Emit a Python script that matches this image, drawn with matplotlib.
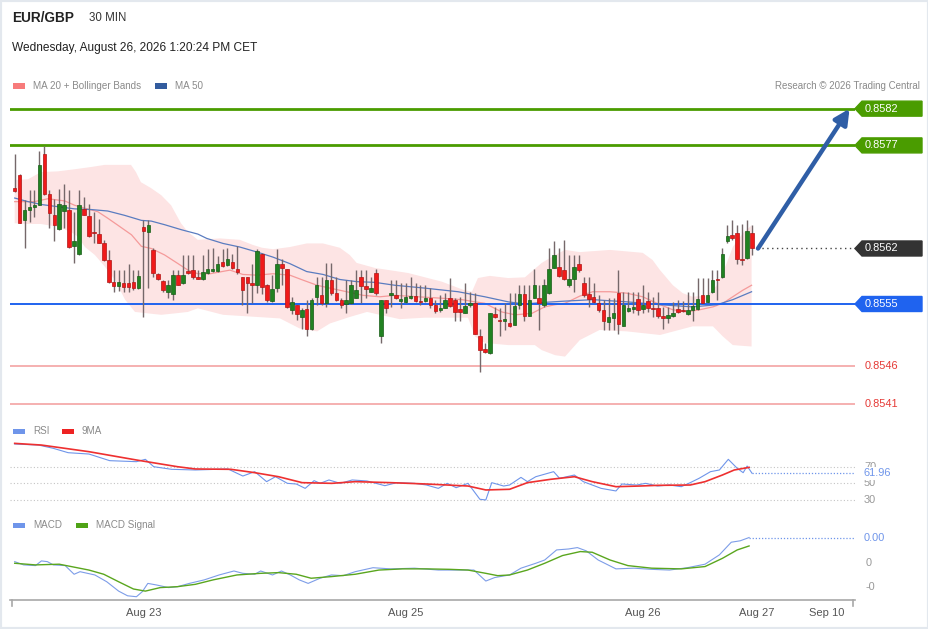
import matplotlib
matplotlib.use("Agg")
import matplotlib.pyplot as plt
import matplotlib.transforms as mtransforms
from matplotlib.patches import Polygon, Rectangle
import numpy as np

plt.rcParams["font.family"] = ["Liberation Sans", "DejaVu Sans"]

W, H = 929, 629

# EUR/GBP 30 min candles, prices in points (1e-5)
open_pts = [85708, 85726, 85664, 85677, 85681, 85685, 85755, 85699, 85671, 85651,
            85676, 85678, 85627, 85616, 85679, 85669, 85647, 85644, 85632, 85608,
            85577, 85572, 85576, 85576, 85577, 85569, 85654, 85647, 85622, 85589,
            85579, 85564, 85561, 85587, 85576, 85593, 85594, 85584, 85581, 85590,
            85593, 85593, 85605, 85601, 85605, 85596, 85584, 85584, 85576, 85574,
            85617, 85574, 85551, 85569, 85602, 85595, 85539, 85545, 85529, 85540,
            85512, 85557, 85559, 85548, 85580, 85562, 85552, 85547, 85548, 85556,
            85585, 85572, 85564, 85590, 85503, 85553, 85559, 85560, 85551, 85550,
            85555, 85558, 85551, 85551, 85555, 85545, 85538, 85542, 85556, 85553,
            85540, 85535, 85545, 85549, 85502, 85484, 85479, 85533, 85525, 85524,
            85521, 85518, 85545, 85561, 85530, 85556, 85555, 85545, 85562, 85597,
            85598, 85594, 85573, 85582, 85602, 85576, 85561, 85557, 85549, 85539,
            85522, 85527, 85562, 85517, 85537, 85540, 85554, 85540, 85551, 85542,
            85541, 85531, 85528, 85531, 85540, 85539, 85533, 85539, 85540, 85559,
            85550, 85563, 85581, 85584, 85634, 85643, 85645, 85610, 85611, 85646]
high_pts = [85755, 85727, 85691, 85705, 85705, 85759, 85766, 85705, 85693, 85707,
            85714, 85705, 85675, 85705, 85696, 85686, 85675, 85665, 85636, 85622,
            85594, 85594, 85594, 85603, 85594, 85594, 85663, 85663, 85624, 85590,
            85580, 85580, 85594, 85594, 85615, 85615, 85615, 85594, 85615, 85623,
            85624, 85613, 85623, 85624, 85617, 85627, 85585, 85585, 85603, 85623,
            85618, 85575, 85587, 85623, 85610, 85595, 85557, 85545, 85541, 85552,
            85555, 85585, 85585, 85604, 85604, 85585, 85555, 85580, 85580, 85594,
            85594, 85594, 85585, 85595, 85553, 85553, 85580, 85580, 85576, 85576,
            85585, 85576, 85573, 85573, 85569, 85552, 85559, 85562, 85583, 85555,
            85557, 85576, 85564, 85562, 85512, 85493, 85535, 85543, 85542, 85548,
            85562, 85562, 85573, 85573, 85573, 85595, 85573, 85582, 85624, 85635,
            85624, 85636, 85615, 85615, 85615, 85585, 85585, 85576, 85559, 85552,
            85555, 85555, 85594, 85563, 85563, 85563, 85564, 85573, 85564, 85557,
            85564, 85543, 85543, 85550, 85553, 85551, 85564, 85564, 85583, 85583,
            85583, 85594, 85594, 85624, 85656, 85664, 85656, 85658, 85664, 85656]
low_pts = [85703, 85659, 85624, 85661, 85668, 85684, 85698, 85653, 85634, 85650,
           85653, 85625, 85604, 85615, 85670, 85640, 85631, 85631, 85607, 85576,
           85564, 85565, 85564, 85564, 85566, 85568, 85529, 85569, 85585, 85580,
           85564, 85555, 85553, 85573, 85575, 85589, 85582, 85581, 85580, 85589,
           85591, 85591, 85598, 85600, 85596, 85589, 85545, 85534, 85548, 85562,
           85561, 85550, 85550, 85564, 85573, 85542, 85533, 85525, 85513, 85502,
           85511, 85545, 85545, 85543, 85559, 85551, 85542, 85534, 85547, 85556,
           85548, 85556, 85564, 85559, 85493, 85535, 85543, 85554, 85541, 85549,
           85554, 85550, 85545, 85550, 85541, 85534, 85536, 85541, 85543, 85524,
           85524, 85535, 85543, 85505, 85453, 85479, 85478, 85527, 85502, 85511,
           85515, 85518, 85540, 85524, 85530, 85556, 85511, 85543, 85561, 85597,
           85585, 85580, 85571, 85564, 85591, 85557, 85543, 85548, 85536, 85511,
           85511, 85511, 85506, 85516, 85536, 85534, 85532, 85534, 85536, 85529,
           85527, 85513, 85520, 85529, 85534, 85536, 85532, 85524, 85539, 85548,
           85549, 85562, 85553, 85583, 85632, 85636, 85603, 85601, 85610, 85615]
close_pts = [85704, 85660, 85678, 85682, 85685, 85740, 85699, 85673, 85656, 85686,
             85684, 85626, 85634, 85685, 85671, 85642, 85646, 85632, 85608, 85578,
             85572, 85578, 85571, 85571, 85569, 85586, 85648, 85656, 85590, 85581,
             85566, 85574, 85587, 85574, 85587, 85590, 85585, 85582, 85591, 85595,
             85595, 85602, 85600, 85609, 85597, 85591, 85566, 85576, 85574, 85621,
             85571, 85552, 85568, 85603, 85597, 85543, 85550, 85533, 85538, 85513,
             85553, 85574, 85548, 85580, 85562, 85552, 85545, 85553, 85573, 85566,
             85572, 85568, 85569, 85562, 85552, 85542, 85562, 85555, 85554, 85557,
             85558, 85551, 85550, 85555, 85545, 85537, 85542, 85552, 85544, 85536,
             85536, 85544, 85548, 85505, 85483, 85480, 85534, 85529, 85523, 85526,
             85516, 85544, 85561, 85530, 85553, 85574, 85549, 85574, 85595, 85615,
             85586, 85582, 85582, 85598, 85594, 85559, 85554, 85550, 85539, 85523,
             85529, 85535, 85519, 85546, 85541, 85543, 85539, 85546, 85541, 85540,
             85530, 85528, 85532, 85535, 85536, 85537, 85539, 85544, 85554, 85549,
             85559, 85580, 85580, 85616, 85641, 85638, 85609, 85608, 85648, 85624]

# Bollinger bands (MA 20) and MA 50, read at sample candles (index, points)
bb_up_idx = [0, 2.7, 5.3, 8.7, 12.2, 15.4, 18.2, 23.5, 24.5, 25.5, 27.5, 29.6, 31.6, 32.4,
             33.6, 35, 37, 41.5, 45.5, 48.1, 50, 52.2, 55.6, 59, 62.3, 65.7, 67.7, 69.1,
             72.8, 79.5, 86.3, 90.9, 92.4, 93.6, 96, 99.7, 103.1, 106.5, 109.2, 111.2,
             114.2, 120.3, 126.9, 128.9, 130.4, 133, 135, 137, 139.9, 141.9, 143.9,
             145.1, 147.1, 148.9]
bb_up = [85719, 85720, 85730, 85731, 85734, 85737, 85740, 85740, 85730, 85716, 85708,
         85698, 85684, 85674, 85659, 85647, 85636, 85638, 85636, 85629, 85625, 85623,
         85626, 85631, 85631, 85625, 85615, 85604, 85597, 85590, 85578, 85566, 85564,
         85583, 85586, 85583, 85584, 85604, 85615, 85622, 85619, 85622, 85618, 85608,
         85594, 85573, 85562, 85557, 85559, 85573, 85604, 85626, 85645, 85656]
bb_lo_idx = [0, 2.7, 5.3, 8.7, 11.4, 12.8, 14.2, 16.2, 18.2, 20.3, 22.3, 24.3, 26.9, 29.6,
             32.4, 35, 37, 42.1, 49, 53.6, 57.6, 61.1, 63.7, 67.7, 71.2, 73.8, 77.8, 82.9,
             91.6, 93, 95, 99.7, 105.1, 106.5, 109.2, 111.2, 114.2, 118.2, 123.7, 130.4,
             137, 141.1, 143.1, 145.1, 148.9]
bb_lo = [85659, 85658, 85658, 85654, 85647, 85640, 85626, 85615, 85599, 85580, 85553,
         85536, 85534, 85532, 85534, 85536, 85541, 85532, 85529, 85527, 85513, 85509,
         85520, 85529, 85536, 85532, 85526, 85528, 85528, 85502, 85493, 85490, 85490,
         85483, 85476, 85474, 85497, 85511, 85509, 85504, 85516, 85516, 85502, 85490,
         85488]
ma20_idx = [0, 4, 6.7, 10.1, 12.1, 14.1, 16.8, 18.8, 20.9, 23.6, 25.6, 27.6, 30.3, 33, 35,
            37, 39.5, 43.5, 46.1, 49, 52.2, 55.6, 58.3, 61.1, 63.7, 67.1, 70.4, 73.8, 76.8,
            81.5, 86.3, 90.4, 93, 95, 98.4, 101.1, 104.5, 107.1, 109.2, 111.2, 114.2,
            116.8, 120.3, 123.7, 126.9, 130.4, 133, 135.8, 138.4, 141.1, 143.1, 145.1,
            147.1, 148.9]
ma20 = [85689, 85689, 85693, 85690, 85684, 85680, 85675, 85666, 85656, 85643, 85627,
        85624, 85615, 85603, 85594, 85589, 85589, 85594, 85588, 85587, 85589, 85587,
        85580, 85573, 85569, 85564, 85559, 85557, 85559, 85557, 85555, 85553, 85550,
        85548, 85536, 85532, 85534, 85543, 85546, 85548, 85558, 85564, 85564, 85562,
        85557, 85546, 85539, 85536, 85539, 85543, 85548, 85557, 85566, 85573]
ma50_idx = [0, 2.7, 5.4, 8.7, 12.1, 15.5, 18.8, 22.2, 25.6, 27.6, 30.3, 33.7, 37, 38.8,
            42.1, 45.5, 49, 52.2, 55.6, 59, 62.3, 65.7, 69.1, 72.8, 76.8, 82.9, 89.6, 95,
            99.7, 103.1, 106.5, 111.2, 116.8, 123.7, 130.4, 137, 141.9, 145.1, 148.9]
ma50 = [85694, 85689, 85685, 85682, 85679, 85678, 85676, 85670, 85663, 85662, 85657,
        85650, 85644, 85638, 85631, 85626, 85619, 85612, 85603, 85592, 85588, 85581,
        85578, 85577, 85573, 85569, 85564, 85557, 85550, 85547, 85549, 85551, 85553,
        85550, 85546, 85543, 85546, 85553, 85564]

# key levels
levels = [0.85818, 0.85767, 0.85547, 0.85461, 0.85408]
level_labels = ["0.8582", "0.8577", "0.8555", "0.8546", "0.8541"]
level_kinds = ["res", "res", "pivot", "sup", "sup"]
last_label = "0.8562"

# RSI and its 9MA (index, value)
rsi_idx = [0, 4.8, 7.8, 10.8, 15, 19.2, 24.6, 26.4, 28.1, 31.7, 36.5, 43.1, 46.1, 48.5,
           50.9, 52.7, 55.1, 56.9, 58.7, 60.5, 61.7, 63.5, 65.8, 68.2, 71.2, 74.8, 77.2,
           80.8, 83.2, 85.6, 87.4, 89.2, 91.6, 94, 95.2, 96.4, 98.8, 100, 102.3, 103.6,
           105.3, 108.9, 110.1, 113.1, 114.9, 118.5, 121.5, 122.7, 125.7, 127.5, 129.9,
           132.3, 134.7, 136.5, 138.3, 140.6, 142.4, 144.2, 146, 147.2, 148, 149]
rsi = [96.8, 95.6, 91.7, 86.5, 84.9, 77.0, 75.8, 78.6, 69.8, 66.7, 65.9, 67.1, 58.7, 63.9,
       52.0, 57.9, 50.0, 49.2, 44.0, 53.2, 50.0, 54.0, 50.0, 54.0, 52.8, 47.2, 50.8, 50.0,
       48.0, 44.0, 50.0, 44.8, 50.0, 31.0, 30.2, 50.8, 46.8, 48.0, 57.1, 52.0, 57.9, 63.9,
       56.0, 59.9, 52.0, 44.0, 40.9, 49.2, 48.0, 50.0, 46.8, 48.0, 46.0, 50.8, 56.0, 63.9,
       65.9, 78.6, 67.9, 62.7, 70.6, 61.96]
rsi_ma_idx = [0, 5.4, 15, 24.6, 32.9, 36.5, 43.7, 48.5, 53.3, 58.1, 64.1, 68.8, 76, 83.2,
              91.6, 95.2, 100, 103.6, 108.3, 113.1, 116.7, 121.5, 126.3, 129.9, 136.5,
              139.5, 143, 145.4, 148.4]
rsi_ma = [97.6, 95.6, 87.7, 77.8, 69.8, 67.1, 66.7, 62.7, 57.9, 50.8, 50.0, 52.0, 50.8,
          49.2, 46.8, 42.1, 42.9, 50.8, 54.8, 57.9, 52.0, 46.0, 46.8, 47.6, 48.0, 52.0,
          59.9, 65.9, 69.0]
rsi_levels = [70, 50, 30]

# MACD and signal (index, points)
macd_idx = [0, 1.8, 4.2, 5.4, 6.6, 7.8, 10.2, 12, 13.2, 16.2, 18.6, 21, 22.8, 24.6, 25.8,
            26.9, 28.7, 31.1, 32.9, 35.3, 38.3, 41.3, 44.3, 46.1, 48.5, 49.7, 52.1, 53.9,
            55.7, 57.5, 59.3, 61.7, 64, 66.4, 68.8, 72.4, 76, 80.8, 85.6, 90.4, 92.8, 95.2,
            97, 100, 102.3, 105.3, 107.1, 109.5, 111.9, 113.7, 115.5, 117.9, 121.5, 125.1,
            128.7, 132.3, 135.9, 139.5, 142.4, 144.8, 146.6, 148.4]
macd = [0.7, -0.7, -1.0, 1.0, 0.7, -0.7, -1.0, -4.7, -3.6, -5.0, -7.9, -11.9, -13.9, -14.3,
        -12.1, -8.6, -9.3, -10.4, -10.0, -8.6, -7.1, -5.0, -3.3, -4.3, -4.7, -3.3, -5.0,
        -3.3, -5.0, -7.1, -8.6, -6.4, -5.0, -5.3, -3.6, -1.9, -2.4, -2.1, -2.9, -2.9, -2.9,
        -7.6, -6.1, -5.0, -2.1, 0.0, 1.4, 5.7, 6.1, 6.7, 5.3, 1.4, -2.4, -2.1, -2.6, -2.9,
        -1.9, -0.4, 3.6, 9.0, 9.6, 11.0]
sig_idx = [0, 4.2, 9, 11.4, 15, 18, 21, 24, 26.4, 29.4, 32.9, 36.5, 40.1, 44.9, 49.7, 53.3,
           56.9, 59.9, 64, 68.8, 73.6, 78.4, 83.2, 88, 91.6, 95.2, 97.6, 100, 103.6, 107.1,
           110.7, 114.3, 116.7, 120.3, 123.9, 128.7, 134.7, 139.5, 143, 146, 148.4]
sig = [0.0, -0.7, -0.4, -1.4, -2.9, -4.7, -7.9, -11.0, -11.9, -10.4, -10.0, -9.0, -7.1,
       -5.0, -4.3, -4.0, -4.7, -6.4, -5.7, -4.7, -2.9, -2.4, -2.4, -2.6, -2.9, -4.3, -5.3,
       -5.0, -2.9, 0.0, 3.3, 5.0, 4.7, 1.4, -1.0, -2.1, -2.4, -1.4, 2.1, 5.7, 7.4]
macd_ticks = [0.0, -10.0]
macd_tick_labels = ["0", "-0"]
macd_last_label = "0.00"

# time axis
tick_idx = [26, 79, 127, 150, 164]
tick_labels = ["Aug 23", "Aug 25", "Aug 26", "Aug 27", "Sep 10"]

GREEN_LVL = "#4a9c00"
BLUE_LVL = "#1f63ef"
RED_LVL = "#f4a3a3"
RED_TXT = "#e53935"
RSI_C = "#6f95ea"
GREY_T = "#8a8a8a"


def rect(x0, y0, x1, y1):
    return [x0 / W, 1 - y1 / H, (x1 - x0) / W, (y1 - y0) / H]


def clean(a):
    for s in a.spines.values():
        s.set_visible(False)
    a.set_xticks([])
    a.set_yticks([])
    a.set_xlim(-0.95, 169.8)
    a.patch.set_alpha(0)


fig = plt.figure(figsize=(W / 100, H / 100), dpi=100)
fig.patches.append(Rectangle((0, 0), 1, 1, transform=fig.transFigure, fill=False,
                             ec="#e3e8ee", lw=3))

ax = fig.add_axes(rect(10, 100, 855, 415))
ax_rsi = fig.add_axes(rect(10, 438, 855, 506))
ax_macd = fig.add_axes(rect(10, 527, 855, 600))
for a in (ax, ax_rsi, ax_macd):
    clean(a)

# header
fig.text(12 / W, 1 - 18 / H, "EUR/GBP", fontsize=9.8, fontweight="bold", color="#222",
         va="center")
fig.text(89 / W, 1 - 18 / H, "30 MIN", fontsize=8.3, color="#333", va="center")
fig.text(12 / W, 1 - 48 / H, "Wednesday, August 26, 2026 1:20:24 PM CET", fontsize=8.6,
         color="#222", va="center")
fig.text(920 / W, 1 - 86 / H, "Research \u00a9 2026 Trading Central", fontsize=7,
         color=GREY_T, va="center", ha="right")


def legend_item(x, y, color, text):
    fig.patches.append(Rectangle((x / W, 1 - (y + 2.5) / H), 12 / W, 5 / H,
                                 transform=fig.transFigure, fc=color, ec="none"))
    fig.text((x + 20) / W, 1 - y / H, text, fontsize=7.1, color=GREY_T, va="center")


legend_item(13, 86, "#f77b7b", "MA 20 + Bollinger Bands")
legend_item(155, 86, "#335c9e", "MA 50")
legend_item(13, 431, RSI_C, "RSI")
legend_item(62, 431, "#ee2222", "9MA")
legend_item(13, 525, RSI_C, "MACD")
legend_item(76, 525, "#4fa316", "MACD Signal")

# main price panel
ax.set_ylim(0.85393, 0.85830)
o = np.array(open_pts) / 1e5
h = np.array(high_pts) / 1e5
l = np.array(low_pts) / 1e5
c = np.array(close_pts) / 1e5
idx = np.arange(len(c))
n = len(c)

ax.fill(np.r_[bb_up_idx, bb_lo_idx[::-1]], np.r_[bb_up, bb_lo[::-1]] / 1e5,
        color="#fde4e4", lw=0, zorder=1)
ax.plot(ma20_idx, np.array(ma20) / 1e5, color="#f59a9a", lw=0.9, zorder=2)
ax.plot(ma50_idx, np.array(ma50) / 1e5, color="#5a7cc0", lw=0.9, zorder=2)

for lv, kind in zip(levels, level_kinds):
    col = {"res": GREEN_LVL, "pivot": BLUE_LVL, "sup": RED_LVL}[kind]
    lw = {"res": 2.0, "pivot": 1.4, "sup": 1.2}[kind]
    ax.axhline(lv, color=col, lw=lw, zorder=3)

up = c >= o
body_lo = np.minimum(o, c)
body_h = np.maximum(np.abs(c - o), 1.5e-6)
ax.vlines(idx, l, h, color="#75686a", lw=1.0, zorder=4)
ax.bar(idx, body_h, bottom=body_lo, width=0.72,
       color=np.where(up, "#218221", "#f01a1a"),
       edgecolor=np.where(up, "#175c17", "#b01515"), linewidth=0.5, zorder=5)

# last price dotted line and forecast arrow
ax.plot([n, 169.8], [c[-1], c[-1]], color="#444", lw=1, ls=(0, (1, 2.5)), zorder=3)
ax.annotate("", xy=(n + 18.7, levels[0]), xytext=(n + 0.2, c[-1]),
            arrowprops=dict(arrowstyle="-|>,head_length=0.9,head_width=0.45",
                            color="#2f5ea6", lw=3.2, shrinkA=0, shrinkB=0), zorder=6)

ident = mtransforms.IdentityTransform()


def price_tag(value, text, fc, axis=ax):
    yd = axis.transData.transform((0, value))[1]
    pts = [(855, yd), (862, yd + 7.5), (922, yd + 7.5), (922, yd - 7.5), (862, yd - 7.5)]
    fig.add_artist(Polygon(pts, closed=True, fc=fc, ec=fc, transform=ident))
    fig.text(865 / W, yd / H, text, color="white", fontsize=7.9, va="center")


for lv, lab, kind in zip(levels, level_labels, level_kinds):
    if kind == "res":
        price_tag(lv, lab, GREEN_LVL)
    elif kind == "pivot":
        price_tag(lv, lab, BLUE_LVL)
    else:
        yd = ax.transData.transform((0, lv))[1]
        fig.text(865 / W, yd / H, lab, color=RED_TXT, fontsize=7.9, va="center")
price_tag(c[-1], last_label, "#333333")

# RSI panel
ax_rsi.set_ylim(23, 104)
for v in rsi_levels:
    ax_rsi.axhline(v, color="#c4c4c4", lw=0.8, ls=(0, (1, 2)))
ax_rsi.plot(rsi_idx, rsi, color=RSI_C, lw=0.8)
ax_rsi.plot(rsi_ma_idx, rsi_ma, color="#ee3030", lw=1.2)
ax_rsi.plot([rsi_idx[-1], 169.8], [rsi[-1], rsi[-1]], color=RSI_C, lw=0.9, ls=(0, (1, 1.5)))
for v in rsi_levels:
    yd = ax_rsi.transData.transform((0, v))[1]
    fig.text(864 / W, yd / H, str(v), color="#999", fontsize=7.9, va="center")
yd = ax_rsi.transData.transform((0, rsi[-1]))[1]
fig.text(864 / W, yd / H, "%.2f" % rsi[-1], color=RSI_C, fontsize=7.9, va="center",
         bbox=dict(boxstyle="square,pad=0.15", fc="white", ec="none"), zorder=5)

# MACD panel
ax_macd.set_ylim(-15.7e-5, 15.5e-5)
ax_macd.plot(macd_idx, np.array(macd) / 1e5, color="#7d9de8", lw=0.8)
ax_macd.plot(sig_idx, np.array(sig) / 1e5, color="#5aa61e", lw=1.0)
ax_macd.plot([macd_idx[-1], 169.8], [macd[-1] / 1e5] * 2, color=RSI_C, lw=0.9,
             ls=(0, (1, 1.5)))
for v, lab in zip(macd_ticks, macd_tick_labels):
    yd = ax_macd.transData.transform((0, v / 1e5))[1]
    fig.text(866 / W, yd / H, lab, color="#999", fontsize=7.9, va="center")
yd = ax_macd.transData.transform((0, macd[-1] / 1e5))[1]
fig.text(864 / W, yd / H, macd_last_label, color=RSI_C, fontsize=7.9, va="center")

# time axis
ax_macd.spines["bottom"].set_visible(True)
ax_macd.spines["bottom"].set_color("#a8a8a8")
ax_macd.spines["bottom"].set_linewidth(1.2)
for xf in (0.002, 0.998):
    ax_macd.plot([xf, xf], [0, -0.08], transform=ax_macd.transAxes, color="#a8a8a8",
                 lw=1.2, clip_on=False)
ax_macd.set_xticks(tick_idx)
ax_macd.set_xticklabels(tick_labels)
ax_macd.tick_params(axis="x", length=0, pad=6, labelsize=8, labelcolor="#555")

fig.savefig("out.png", dpi=100)
